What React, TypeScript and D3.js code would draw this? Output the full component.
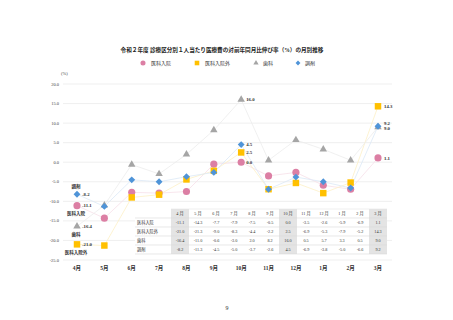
import React from "react";
import * as d3 from "d3";

const months = ["4月", "5月", "6月", "7月", "8月", "9月", "10月", "11月", "12月", "1月", "2月", "3月"];
const tableMonths = ["4 月", "5 月", "6 月", "7 月", "8 月", "9 月", "10 月", "11 月", "12 月", "1 月", "2 月", "3 月"];
const inpatient = [-11.1, -14.3, -7.7, -7.9, -7.5, -0.5, 0.0, -3.5, -2.6, -5.9, -6.9, 1.1];
const outpatient = [-21.0, -21.3, -9.0, -8.3, -4.4, -2.2, 2.5, -6.9, -5.3, -7.9, -5.2, 14.3];
const dental = [-16.4, -11.0, -0.6, -3.0, 2.0, 8.2, 16.0, 0.5, 5.7, 3.3, 0.5, 9.0];
const pharmacy = [-8.2, -11.3, -4.5, -5.0, -3.7, -2.6, 4.5, -6.9, -3.8, -5.0, -6.6, 9.2];
const seriesNames = ["医科入院", "医科入院外", "歯科", "調剤"];
const yTicks = [20, 15, 10, 5, 0, -5, -10, -15, -20, -25];
const highlightCols = [0, 6, 11];

const colors = ["#DC7FA4", "#FFC000", "#A5A5A5", "#4F94D8"];
const lineColors = ["#F6E0E9", "#FDF0C6", "#ECECEC", "#DCE9F6"];
const diamond = (d3 as any).symbolDiamond2 || d3.symbolDiamond;
const shapes = [d3.symbolCircle, d3.symbolSquare, d3.symbolTriangle, diamond];
const sizes = [40, 42, 24, 30];

const FONT = "'Liberation Serif', 'Noto Sans CJK JP', serif";

export default function App() {
  const allSeries = [inpatient, outpatient, dental, pharmacy];
  const x = d3.scalePoint<string>().domain(months).range([77, 378]);
  const y = d3.scaleLinear().domain([-25, 20]).range([260, 84]);
  const line = d3
    .line<number>()
    .x((_, i) => x(months[i]) as number)
    .y((d) => y(d));

  const tLeft = 135;
  const labelW = 36;
  const colW = 18;
  const tTop = 209;
  const rowH = 9;
  const tRight = tLeft + labelW + colW * months.length;

  const legendItems = [
    { sx: 143, tx: 151 },
    { sx: 197, tx: 205 },
    { sx: 256, tx: 263 },
    { sx: 298, tx: 305 },
  ];

  const firstLabelDy = [8, 8, 8, -8];
  const rightLabelDy = [0, 0, 1.5, -3];

  return (
    <svg width={453} height={320} style={{ position: "absolute", left: 0, top: 0, background: "#fff" }} fontFamily={FONT}>
      <rect x={0} y={0} width={453} height={320} fill="#fff" />
      <text x={222} y={52} fontSize={5.6} fontWeight="bold" textAnchor="middle" fill="#222">
        令和２年度 診療区分別１人当たり医療費の対前年同月比伸び率（%）の月別推移
      </text>
      {legendItems.map((l, i) => (
        <g key={i}>
          <path d={d3.symbol().type(shapes[i]).size(sizes[i] * 0.5)() as string} transform={`translate(${l.sx},63)`} fill={colors[i]} />
          <text x={l.tx} y={65} fontSize={5} fill="#333">
            {seriesNames[i]}
          </text>
        </g>
      ))}
      <text x={61} y={75} fontSize={4.5} fill="#444">
        (%)
      </text>
      {yTicks.map((t) => (
        <g key={t}>
          <line x1={63} x2={392} y1={y(t)} y2={y(t)} stroke="#E8E8E8" strokeWidth={0.7} />
          <text x={59} y={y(t) + 1.6} fontSize={4.5} textAnchor="end" fill="#444">
            {t.toFixed(1)}
          </text>
        </g>
      ))}
      {months.map((m) => (
        <text key={m} x={x(m)} y={270} fontSize={5.5} fontWeight="bold" textAnchor="middle" fill="#333">
          {m}
        </text>
      ))}
      {allSeries.map((s, i) => (
        <path key={i} d={line(s) as string} fill="none" stroke={lineColors[i]} strokeWidth={0.8} />
      ))}
      <rect x={tLeft} y={tTop} width={tRight - tLeft} height={rowH * 5} fill="#fff" />
      {highlightCols.map((c) => (
        <rect key={c} x={tLeft + labelW + c * colW} y={tTop} width={colW} height={rowH * 5} fill="#E4E4E4" />
      ))}
      {[1, 2, 3, 4, 5].map((r) => (
        <line key={r} x1={tLeft} x2={tRight} y1={tTop + r * rowH} y2={tTop + r * rowH} stroke="#D8D8D8" strokeWidth={0.6} />
      ))}
      <line x1={tLeft + labelW} x2={tRight} y1={tTop} y2={tTop} stroke="#E4E4E4" strokeWidth={0.6} />
      {tableMonths.map((m, c) => (
        <text key={m} x={tLeft + labelW + c * colW + colW / 2} y={tTop + rowH / 2 + 1.6} fontSize={4.2} textAnchor="middle" fill="#333">
          {m}
        </text>
      ))}
      {allSeries.map((s, r) => (
        <g key={r}>
          <text x={tLeft + 2} y={tTop + (r + 1) * rowH + rowH / 2 + 1.6} fontSize={4.2} fill="#333">
            {seriesNames[r]}
          </text>
          {s.map((v, c) => (
            <text key={c} x={tLeft + labelW + c * colW + colW / 2} y={tTop + (r + 1) * rowH + rowH / 2 + 1.6} fontSize={4.2} textAnchor="middle" fill="#333">
              {v.toFixed(1)}
            </text>
          ))}
        </g>
      ))}
      {allSeries.map((s, i) => (
        <g key={i}>
          {s.map((v, j) => (
            <path key={j} d={d3.symbol().type(shapes[i]).size(sizes[i])() as string} transform={`translate(${x(months[j])},${y(v)})`} fill={colors[i]} />
          ))}
        </g>
      ))}
      {allSeries.map((s, i) => (
        <g key={i}>
          <text x={(x(months[0]) as number) + 5} y={y(s[0]) + 1.7} fontSize={4.8} fontWeight="bold" fill="#333">
            {s[0].toFixed(1)}
          </text>
          <text x={(x(months[0]) as number) - 1} y={y(s[0]) + firstLabelDy[i] + 1.7} fontSize={4.5} fontWeight="bold" textAnchor="middle" fill="#333">
            {seriesNames[i]}
          </text>
          <text x={(x(months[6]) as number) + 5} y={y(s[6]) + 1.7} fontSize={4.8} fontWeight="bold" fill="#333">
            {s[6].toFixed(1)}
          </text>
          <text x={(x(months[11]) as number) + 6} y={y(s[11]) + rightLabelDy[i] + 1.7} fontSize={4.8} fontWeight="bold" fill="#333">
            {s[11].toFixed(1)}
          </text>
        </g>
      ))}
      <text x={227} y={310} fontSize={6} textAnchor="middle" fill="#333">
        9
      </text>
    </svg>
  );
}
